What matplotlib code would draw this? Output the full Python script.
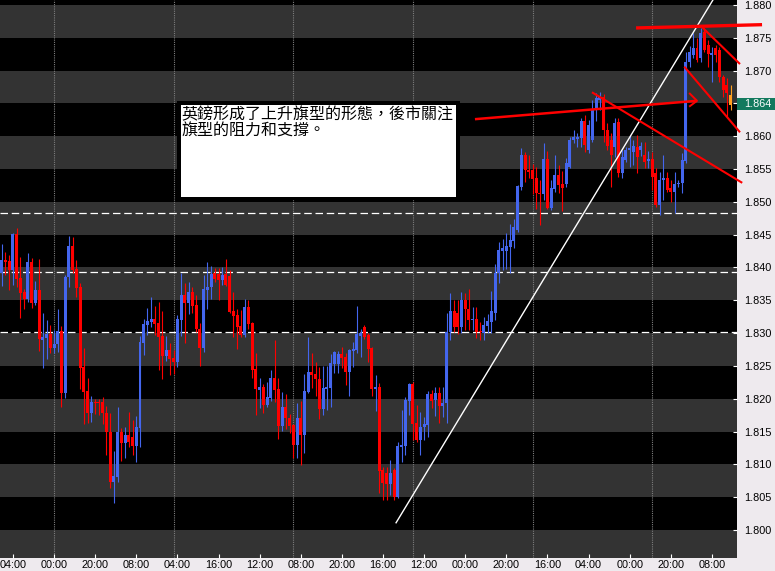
import matplotlib
matplotlib.use('Agg')
import matplotlib.pyplot as plt
import matplotlib.transforms as mtransforms
from matplotlib.patches import Rectangle

plt.rcParams['font.family'] = ['Liberation Sans', 'DejaVu Sans']

# ==============================================================================
# Data: GBP candles, one entry per bar
# ==============================================================================
opens = [1.8392, 1.8411, 1.8410, 1.8396, 1.8451, 1.8384, 1.8363, 1.8352, 1.8408, 1.8346,
         1.8366, 1.8290, 1.8292, 1.8299, 1.8277, 1.8283, 1.8303, 1.8209, 1.8385, 1.8433,
         1.8398, 1.8370, 1.8248, 1.8212, 1.8178, 1.8195, 1.8195, 1.8195, 1.8178, 1.8149,
         1.8073, 1.8081, 1.8150, 1.8132, 1.8145, 1.8142, 1.8128, 1.8155, 1.8285, 1.8312,
         1.8317, 1.8321, 1.8315, 1.8296, 1.8265, 1.8274, 1.8262, 1.8256, 1.8320, 1.8358,
         1.8346, 1.8363, 1.8343, 1.8307, 1.8277, 1.8366, 1.8370, 1.8392, 1.8390, 1.8381,
         1.8390, 1.8387, 1.8334, 1.8327, 1.8311, 1.8297, 1.8340, 1.8315, 1.8246, 1.8213,
         1.8218, 1.8190, 1.8201, 1.8232, 1.8215, 1.8158, 1.8187, 1.8171, 1.8160, 1.8130,
         1.8171, 1.8145, 1.8210, 1.8241, 1.8238, 1.8230, 1.8184, 1.8215, 1.8216, 1.8253,
         1.8253, 1.8268, 1.8264, 1.8241, 1.8273, 1.8274, 1.8296, 1.8309, 1.8297, 1.8277,
         1.8215, 1.8218, 1.8091, 1.8087, 1.8070, 1.8091, 1.8050, 1.8126, 1.8128, 1.8197,
         1.8222, 1.8163, 1.8137, 1.8157, 1.8160, 1.8207, 1.8198, 1.8209, 1.8189, 1.8193,
         1.8302, 1.8334, 1.8331, 1.8309, 1.8350, 1.8337, 1.8320, 1.8321, 1.8303, 1.8300,
         1.8311, 1.8317, 1.8331, 1.8392, 1.8425, 1.8425, 1.8431, 1.8440, 1.8457, 1.8523,
         1.8571, 1.8549, 1.8549, 1.8536, 1.8514, 1.8512, 1.8565, 1.8491, 1.8520, 1.8541,
         1.8527, 1.8527, 1.8553, 1.8594, 1.8596, 1.8597, 1.8623, 1.8579, 1.8594, 1.8640,
         1.8655, 1.8660, 1.8610, 1.8594, 1.8583, 1.8622, 1.8544, 1.8564, 1.8579, 1.8576,
         1.8584, 1.8579, 1.8571, 1.8562, 1.8565, 1.8544, 1.8495, 1.8533, 1.8536, 1.8521,
         1.8515, 1.8527, 1.8529, 1.8562, 1.8713, 1.8724, 1.8734, 1.8719, 1.8759, 1.8739,
         1.8724, 1.8734, 1.8731, 1.8690, 1.8678, 1.8663]

highs = [1.8436, 1.8424, 1.8419, 1.8453, 1.8460, 1.8416, 1.8367, 1.8422, 1.8415, 1.8379,
         1.8413, 1.8331, 1.8320, 1.8312, 1.8305, 1.8337, 1.8311, 1.8389, 1.8448, 1.8446,
         1.8411, 1.8376, 1.8277, 1.8232, 1.8204, 1.8200, 1.8200, 1.8203, 1.8189, 1.8178,
         1.8120, 1.8187, 1.8155, 1.8157, 1.8180, 1.8168, 1.8174, 1.8296, 1.8321, 1.8338,
         1.8355, 1.8341, 1.8347, 1.8334, 1.8296, 1.8285, 1.8274, 1.8327, 1.8392, 1.8376,
         1.8378, 1.8370, 1.8358, 1.8315, 1.8389, 1.8408, 1.8402, 1.8399, 1.8399, 1.8401,
         1.8413, 1.8396, 1.8363, 1.8337, 1.8335, 1.8352, 1.8350, 1.8317, 1.8270, 1.8232,
         1.8222, 1.8226, 1.8244, 1.8290, 1.8232, 1.8210, 1.8207, 1.8177, 1.8162, 1.8193,
         1.8197, 1.8238, 1.8294, 1.8270, 1.8256, 1.8248, 1.8250, 1.8250, 1.8268, 1.8273,
         1.8273, 1.8279, 1.8270, 1.8276, 1.8286, 1.8341, 1.8306, 1.8312, 1.8300, 1.8279,
         1.8236, 1.8224, 1.8096, 1.8096, 1.8107, 1.8094, 1.8134, 1.8183, 1.8203, 1.8224,
         1.8226, 1.8190, 1.8180, 1.8172, 1.8212, 1.8213, 1.8218, 1.8218, 1.8218, 1.8331,
         1.8361, 1.8350, 1.8350, 1.8363, 1.8361, 1.8367, 1.8340, 1.8340, 1.8317, 1.8325,
         1.8329, 1.8364, 1.8405, 1.8439, 1.8444, 1.8452, 1.8466, 1.8474, 1.8526, 1.8582,
         1.8576, 1.8571, 1.8558, 1.8553, 1.8533, 1.8590, 1.8577, 1.8533, 1.8571, 1.8556,
         1.8547, 1.8567, 1.8599, 1.8610, 1.8605, 1.8628, 1.8632, 1.8625, 1.8655, 1.8666,
         1.8667, 1.8664, 1.8620, 1.8605, 1.8628, 1.8628, 1.8579, 1.8584, 1.8602, 1.8594,
         1.8602, 1.8591, 1.8591, 1.8578, 1.8576, 1.8552, 1.8546, 1.8571, 1.8546, 1.8533,
         1.8546, 1.8533, 1.8574, 1.8728, 1.8737, 1.8757, 1.8750, 1.8765, 1.8765, 1.8747,
         1.8736, 1.8739, 1.8736, 1.8693, 1.8689, 1.8678]

lows = [1.8372, 1.8389, 1.8366, 1.8373, 1.8370, 1.8323, 1.8337, 1.8347, 1.8338, 1.8343,
        1.8273, 1.8247, 1.8261, 1.8270, 1.8270, 1.8271, 1.8187, 1.8201, 1.8370, 1.8392,
        1.8355, 1.8215, 1.8162, 1.8163, 1.8165, 1.8177, 1.8175, 1.8162, 1.8114, 1.8064,
        1.8041, 1.8073, 1.8105, 1.8110, 1.8126, 1.8114, 1.8104, 1.8126, 1.8266, 1.8297,
        1.8309, 1.8297, 1.8244, 1.8230, 1.8257, 1.8236, 1.8238, 1.8248, 1.8296, 1.8285,
        1.8329, 1.8331, 1.8302, 1.8250, 1.8271, 1.8337, 1.8352, 1.8378, 1.8350, 1.8373,
        1.8372, 1.8331, 1.8294, 1.8276, 1.8294, 1.8294, 1.8306, 1.8232, 1.8175, 1.8186,
        1.8178, 1.8187, 1.8197, 1.8195, 1.8139, 1.8151, 1.8154, 1.8148, 1.8110, 1.8110,
        1.8099, 1.8117, 1.8209, 1.8216, 1.8204, 1.8169, 1.8175, 1.8183, 1.8187, 1.8239,
        1.8239, 1.8247, 1.8221, 1.8204, 1.8248, 1.8270, 1.8264, 1.8291, 1.8256, 1.8204,
        1.8181, 1.8056, 1.8046, 1.8046, 1.8053, 1.8046, 1.8049, 1.8104, 1.8114, 1.8175,
        1.8137, 1.8134, 1.8114, 1.8137, 1.8142, 1.8186, 1.8174, 1.8163, 1.8172, 1.8163,
        1.8290, 1.8302, 1.8299, 1.8300, 1.8305, 1.8305, 1.8305, 1.8293, 1.8290, 1.8290,
        1.8300, 1.8300, 1.8320, 1.8376, 1.8396, 1.8398, 1.8392, 1.8430, 1.8454, 1.8518,
        1.8530, 1.8536, 1.8512, 1.8489, 1.8465, 1.8503, 1.8489, 1.8488, 1.8515, 1.8514,
        1.8486, 1.8523, 1.8552, 1.8590, 1.8584, 1.8584, 1.8576, 1.8574, 1.8591, 1.8623,
        1.8640, 1.8591, 1.8579, 1.8523, 1.8568, 1.8538, 1.8536, 1.8561, 1.8553, 1.8556,
        1.8544, 1.8570, 1.8552, 1.8552, 1.8518, 1.8492, 1.8480, 1.8503, 1.8515, 1.8500,
        1.8483, 1.8523, 1.8514, 1.8559, 1.8706, 1.8719, 1.8713, 1.8713, 1.8728, 1.8706,
        1.8683, 1.8713, 1.8683, 1.8660, 1.8629, 1.8640]

closes = [1.8411, 1.8408, 1.8396, 1.8451, 1.8382, 1.8361, 1.8352, 1.8408, 1.8346, 1.8366,
          1.8291, 1.8294, 1.8299, 1.8277, 1.8283, 1.8303, 1.8209, 1.8385, 1.8433, 1.8396,
          1.8369, 1.8247, 1.8210, 1.8178, 1.8195, 1.8193, 1.8193, 1.8178, 1.8149, 1.8073,
          1.8082, 1.8150, 1.8132, 1.8145, 1.8134, 1.8128, 1.8157, 1.8286, 1.8314, 1.8318,
          1.8321, 1.8314, 1.8294, 1.8265, 1.8274, 1.8261, 1.8256, 1.8321, 1.8358, 1.8346,
          1.8363, 1.8341, 1.8306, 1.8277, 1.8367, 1.8370, 1.8390, 1.8382, 1.8381, 1.8389,
          1.8373, 1.8332, 1.8326, 1.8309, 1.8297, 1.8340, 1.8314, 1.8244, 1.8215, 1.8218,
          1.8190, 1.8203, 1.8232, 1.8213, 1.8158, 1.8187, 1.8171, 1.8158, 1.8130, 1.8171,
          1.8145, 1.8212, 1.8241, 1.8236, 1.8230, 1.8184, 1.8216, 1.8218, 1.8254, 1.8271,
          1.8268, 1.8262, 1.8241, 1.8274, 1.8276, 1.8299, 1.8300, 1.8294, 1.8276, 1.8215,
          1.8218, 1.8090, 1.8072, 1.8070, 1.8087, 1.8050, 1.8128, 1.8130, 1.8198, 1.8222,
          1.8162, 1.8137, 1.8157, 1.8162, 1.8207, 1.8197, 1.8209, 1.8189, 1.8193, 1.8302,
          1.8334, 1.8309, 1.8309, 1.8350, 1.8337, 1.8320, 1.8321, 1.8302, 1.8302, 1.8312,
          1.8318, 1.8334, 1.8392, 1.8427, 1.8430, 1.8433, 1.8442, 1.8462, 1.8524, 1.8571,
          1.8549, 1.8546, 1.8535, 1.8514, 1.8512, 1.8565, 1.8491, 1.8521, 1.8541, 1.8526,
          1.8521, 1.8559, 1.8594, 1.8599, 1.8599, 1.8623, 1.8587, 1.8617, 1.8640, 1.8658,
          1.8661, 1.8610, 1.8585, 1.8571, 1.8620, 1.8544, 1.8568, 1.8579, 1.8582, 1.8585,
          1.8568, 1.8585, 1.8561, 1.8565, 1.8538, 1.8495, 1.8533, 1.8536, 1.8518, 1.8515,
          1.8527, 1.8529, 1.8564, 1.8713, 1.8728, 1.8734, 1.8716, 1.8757, 1.8731, 1.8725,
          1.8727, 1.8724, 1.8690, 1.8670, 1.8666, 1.8648]

# time axis labels, one every 11 bars starting at bar 3
tick_bars = [3, 14, 25, 36, 47, 58, 69, 80, 91, 102, 113, 124, 135, 146, 157, 168, 179, 190]
tick_labels = ['04:00', '00:00', '20:00', '08:00', '04:00', '16:00', '12:00', '08:00', '20:00',
               '16:00', '12:00', '00:00', '20:00', '16:00', '04:00', '00:00', '20:00', '08:00']
week_seps = [14, 46, 78, 110, 142, 174]

# white dashed levels
levels = [1.8483, 1.8393, 1.8302]

# hand-drawn trend lines (bar index, price)
white_x, white_y = [105.5, 190.3], [1.8011, 1.8808]
top_x, top_y = [169.7, 203.4], [1.8765, 1.8770]
arrow_x, arrow_y = [126.6, 186.0], [1.8626, 1.8654]
head_x, head_y = [183.9, 186.0, 183.9], [1.8666, 1.8654, 1.8645]
flag_x, flag_y = [157.9, 198.1], [1.8667, 1.8529]
wedge_up_x, wedge_up_y = [187.4, 197.5], [1.8766, 1.8710]
wedge_lo_x, wedge_lo_y = [182.6, 197.5], [1.8706, 1.8606]

last_price = 1.8649
last_label = '1.864'
note = '英鎊形成了上升旗型的形態，後市關注\n旗型的阻力和支撐。'

# ==============================================================================
# Figure
# ==============================================================================
W, H = 775, 571
fig = plt.figure(figsize=(W / 100, H / 100), dpi=100, facecolor='#eeeaee')
ax = fig.add_axes([0, 13 / H, 737 / W, 558 / H])
ax.set_facecolor('black')
ax.set_xlim(-0.45, 196.7)
ax.set_ylim(1.79573, 1.88076)

# alternating bands
band = 1.795
while band < 1.885:
    ax.axhspan(band, band + 0.005, color='#333333', lw=0, zorder=0)
    band += 0.01

for s in week_seps:
    ax.axvline(s, color='#7d7d7d', lw=0.8, ls=(0, (1, 1)), zorder=1)

for lv in levels:
    ax.axhline(lv, color='white', lw=0.9, dashes=(6, 3), zorder=1)

# candles
n = len(opens)
for i in range(n):
    o, h, l, c = opens[i], highs[i], lows[i], closes[i]
    if i == n - 1:
        col = '#ffa020'
    elif c >= o:
        col = '#4466ee'
    else:
        col = '#ff0000'
    ax.vlines(i, l, h, colors=col, lw=0.8, zorder=3)
    body = max(abs(c - o), 0.00012)
    ax.bar(i, body, bottom=min(o, c), width=0.8, color=col, lw=0, zorder=4)

# trend lines
ax.plot(white_x, white_y, color='white', lw=1.0, zorder=5)
red_kw = dict(color='#ff0000', zorder=6, clip_on=False, solid_capstyle='butt')
ax.plot(top_x, top_y, lw=2.4, **red_kw)
ax.plot(arrow_x, arrow_y, lw=1.8, **red_kw)
ax.plot(head_x, head_y, lw=1.4, **red_kw)
ax.plot(flag_x, flag_y, lw=1.5, **red_kw)
ax.plot(wedge_up_x, wedge_up_y, lw=1.5, **red_kw)
ax.plot(wedge_lo_x, wedge_lo_y, lw=1.5, **red_kw)

# comment box
ax.add_patch(Rectangle((0.240, 0.641), 0.384, 0.178, transform=ax.transAxes,
                       facecolor='black', lw=0, zorder=7))
ax.add_patch(Rectangle((0.2456, 0.647), 0.373, 0.165, transform=ax.transAxes,
                       facecolor='white', lw=0, zorder=8))
ax.text(0.2456, 0.810, note, transform=ax.transAxes, ha='left', va='top',
        fontsize=11.5, linespacing=1.0, color='black', zorder=9,
        family=['Noto Sans CJK TC', 'DejaVu Sans'])

# axes styling
for sp in ax.spines.values():
    sp.set_visible(False)
ax.yaxis.tick_right()
yt = [1.800 + 0.005 * k for k in range(17)]
ax.set_yticks(yt)
ax.set_yticklabels(['%.3f' % v for v in yt])
ax.set_xticks(tick_bars)
ax.set_xticklabels(tick_labels)
ax.tick_params(axis='y', direction='in', length=3, width=0.8, color='white',
               labelcolor='black', labelsize=7.8, pad=5.5)
ax.tick_params(axis='x', direction='in', length=3, width=0.8, color='white',
               labelcolor='black', labelsize=7.8, pad=1.5)

# current price tag
trans = mtransforms.blended_transform_factory(ax.transAxes, ax.transData)
ax.add_patch(Rectangle((1.0, 1.8640), 38 / 737, 0.0018, transform=trans,
                       facecolor='#137a5e', lw=0, clip_on=False, zorder=10))
ax.text(1.0100, last_price, last_label, transform=trans, color='white',
        fontsize=7.8, va='center', ha='left', zorder=11, clip_on=False)

fig.savefig('out.png', dpi=100, facecolor=fig.get_facecolor())
